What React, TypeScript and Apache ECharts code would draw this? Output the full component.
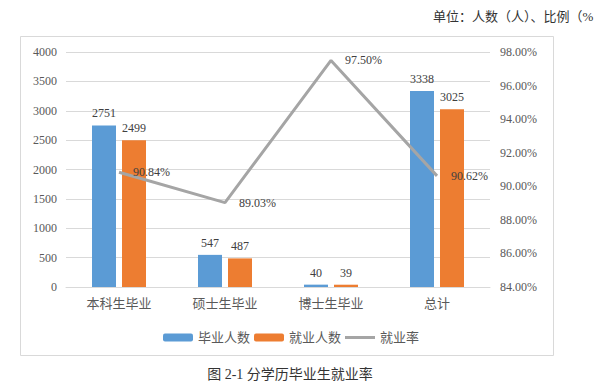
import React, { useEffect, useRef } from "react";
import * as echarts from "echarts";

const categories = ["本科生毕业", "硕士生毕业", "博士生毕业", "总计"];
const graduates = [2751, 547, 40, 3338];
const employed = [2499, 487, 39, 3025];
const employmentRate = [90.84, 89.03, 97.5, 90.62];
const seriesNames = ["毕业人数", "就业人数", "就业率"];
const unitText = "单位：人数（人）、比例（%";
const captionText = "图 2-1 分学历毕业生就业率";

const FONT = "'Liberation Serif', 'Noto Sans CJK SC', serif";

export default function App() {
  const ref = useRef<HTMLDivElement>(null);
  useEffect(() => {
    if (!ref.current) return;
    const chart = echarts.init(ref.current, undefined, { renderer: "svg" });
    chart.setOption({
      animation: false,
      textStyle: { fontFamily: FONT },
      grid: { left: 66, right: 110, top: 52, bottom: 100 },
      legend: {
        data: [
          { name: seriesNames[0] },
          { name: seriesNames[1] },
          { name: seriesNames[2], icon: "path://M0 0H30V3H0Z" },
        ],
        left: 158,
        top: 326,
        itemWidth: 30,
        itemHeight: 8,
        itemGap: 4,
        textStyle: { fontFamily: FONT, fontSize: 13, color: "#595959" },
      },
      xAxis: {
        type: "category",
        data: categories,
        axisTick: { show: false },
        axisLine: { lineStyle: { color: "#d9d9d9" } },
        axisLabel: { fontFamily: FONT, fontSize: 13, color: "#595959", margin: 10 },
      },
      yAxis: [
        {
          type: "value",
          min: 0,
          max: 4000,
          interval: 500,
          axisLine: { show: false },
          axisTick: { show: false },
          splitLine: { lineStyle: { color: "#d9d9d9" } },
          axisLabel: {
            fontFamily: FONT,
            fontSize: 12,
            color: "#595959",
            margin: 9,
            formatter: (v: number) => String(v),
          },
        },
        {
          type: "value",
          min: 84,
          max: 98,
          interval: 2,
          axisLine: { show: false },
          axisTick: { show: false },
          splitLine: { show: false },
          axisLabel: {
            fontFamily: FONT,
            fontSize: 12,
            color: "#595959",
            margin: 10,
            formatter: (v: number) => v.toFixed(2) + "%",
          },
        },
      ],
      series: [
        {
          name: seriesNames[0],
          type: "bar",
          data: graduates,
          barWidth: 24,
          barGap: "25%",
          itemStyle: { color: "#5b9bd5" },
          label: { show: true, position: "top", fontFamily: FONT, fontSize: 12, color: "#404040", distance: 6 },
        },
        {
          name: seriesNames[1],
          type: "bar",
          data: employed,
          barWidth: 24,
          barGap: "25%",
          itemStyle: { color: "#ed7d31" },
          label: { show: true, position: "top", fontFamily: FONT, fontSize: 12, color: "#404040", distance: 6 },
        },
        {
          name: seriesNames[2],
          type: "line",
          yAxisIndex: 1,
          data: employmentRate,
          symbol: "circle",
          symbolSize: 0.1,
          showSymbol: true,
          lineStyle: { color: "#a5a5a5", width: 3 },
          itemStyle: { color: "#a5a5a5" },
          label: {
            show: true,
            position: "right",
            distance: 14,
            fontFamily: FONT,
            fontSize: 12,
            color: "#404040",
            formatter: (p: any) => p.value.toFixed(2) + "%",
          },
        },
      ],
      graphic: [
        {
          type: "rect",
          shape: { x: 20.5, y: 36.5, width: 533, height: 319 },
          style: { fill: "none", stroke: "#d9d9d9", lineWidth: 1 },
          silent: true,
        },
        {
          type: "text",
          x: 433,
          y: 10,
          style: { text: unitText, fontFamily: FONT, fontSize: 13, fill: "#333" },
        },
        {
          type: "text",
          x: 290,
          y: 367,
          style: { text: captionText, fontFamily: FONT, fontSize: 14, fill: "#333", align: "center" },
        },
      ],
    });
    return () => chart.dispose();
  }, []);
  return <div ref={ref} style={{ width: 600, height: 387, position: "absolute", left: 0, top: 0 }} />;
}
